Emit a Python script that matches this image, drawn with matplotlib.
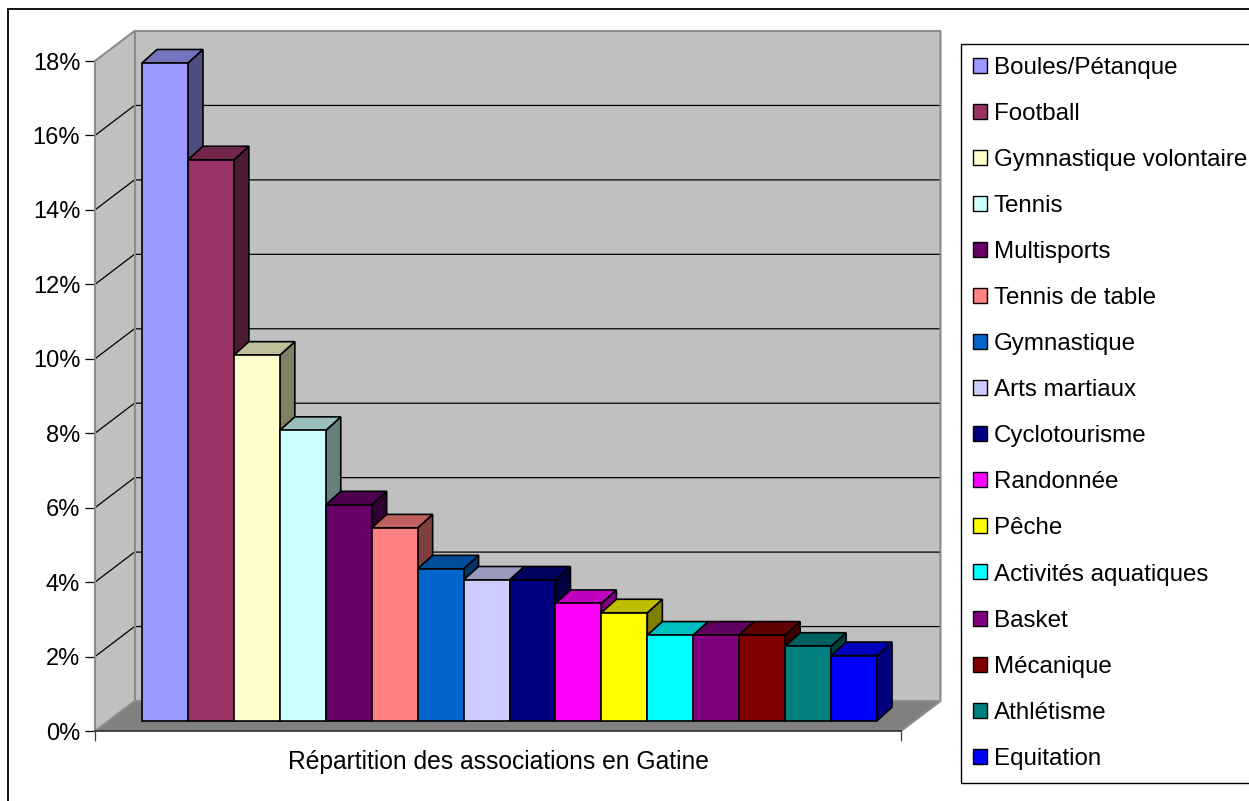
import matplotlib
matplotlib.use("Agg")
import matplotlib.pyplot as plt
from matplotlib.patches import Patch, Rectangle

plt.rcParams['font.family'] = ['Liberation Sans', 'DejaVu Sans']

sports = ["Boules/Pétanque", "Football", "Gymnastique volontaire", "Tennis",
          "Multisports", "Tennis de table", "Gymnastique", "Arts martiaux",
          "Cyclotourisme", "Randonnée", "Pêche", "Activités aquatiques",
          "Basket", "Mécanique", "Athlétisme", "Equitation"]
values = [17.67, 15.07, 9.82, 7.8, 5.8, 5.18, 4.08, 3.78,
          3.78, 3.15, 2.9, 2.3, 2.3, 2.3, 2.0, 1.75]
colors = ["#9999FF", "#993366", "#FFFFCC", "#CCFFFF", "#660066", "#FF8080",
          "#0066CC", "#CCCCFF", "#000080", "#FF00FF", "#FFFF00", "#00FFFF",
          "#800080", "#800000", "#008080", "#0000FF"]
yticks = list(range(0, 20, 2))
title = "Répartition des associations en Gatine"

W, H = 1249, 801
fig = plt.figure(figsize=(W / 100, H / 100), dpi=100)
ax = fig.add_axes([95 / W, 1 - 731 / H, 806 / W, 670 / H])

bar_w = 45.94  # px per category
ax.set_xlim(-47 / bar_w, 759 / bar_w)
ax.set_ylim(0, 18)
px_y = 670 / 18

# fake 3D offsets, in data units
wall_dx, wall_dy = 39.5 / bar_w, 30 / px_y
bar_dx, bar_dy = 15 / bar_w, 13.5 / px_y
base = 10.3 / px_y
x0, x1 = ax.get_xlim()


def darker(col, f):
    r, g, b = matplotlib.colors.to_rgb(col)
    return (r * f, g * f, b * f)


# walls and floor
ax.fill([x0, x0 + wall_dx, x0 + wall_dx, x0], [0, wall_dy, 18 + wall_dy, 18],
        color="#C0C0C0", clip_on=False, zorder=1, lw=0)
ax.fill([x0 + wall_dx, x1 + wall_dx, x1 + wall_dx, x0 + wall_dx],
        [wall_dy, wall_dy, 18 + wall_dy, 18 + wall_dy],
        color="#C0C0C0", clip_on=False, zorder=1, lw=0)
ax.fill([x0, x1, x1 + wall_dx, x0 + wall_dx], [0, 0, wall_dy, wall_dy],
        color="#808080", clip_on=False, zorder=1, lw=0)

# gridlines run along both walls
for t in yticks[1:-1]:
    ax.plot([x0, x0 + wall_dx, x1 + wall_dx], [t, t + wall_dy, t + wall_dy],
            color="black", lw=0.9, clip_on=False, zorder=2)

# wall edges
ax.plot([x0, x0 + wall_dx, x1 + wall_dx, x1 + wall_dx, x1],
        [18, 18 + wall_dy, 18 + wall_dy, wall_dy, 0],
        color="#8C8C8C", lw=1.5, clip_on=False, zorder=2)
ax.plot([x0 + wall_dx, x0 + wall_dx, x1 + wall_dx], [18 + wall_dy, wall_dy, wall_dy],
        color="#8C8C8C", lw=1.5, clip_on=False, zorder=2)
ax.plot([x0, x0 + wall_dx], [0, wall_dy], color="#8C8C8C", lw=1.2, clip_on=False, zorder=2)

# bars, left to right so each one covers the side of the previous
z = 3
for i, (v, c) in enumerate(zip(values, colors)):
    top = base + v
    ax.fill([i + 1, i + 1 + bar_dx, i + 1 + bar_dx, i + 1],
            [base, base + bar_dy, top + bar_dy, top],
            facecolor=darker(c, 0.5), edgecolor="black", lw=1.2, zorder=z, clip_on=False)
    ax.fill([i, i + bar_dx, i + 1 + bar_dx, i + 1],
            [top, top + bar_dy, top + bar_dy, top],
            facecolor=darker(c, 0.75), edgecolor="black", lw=1.2, zorder=z, clip_on=False)
    ax.bar(i + 0.5, v, width=1, bottom=base, color=c, edgecolor="black", lw=1.2,
           zorder=z, clip_on=False)
    z += 1

for s in ("top", "right"):
    ax.spines[s].set_visible(False)
ax.spines["left"].set_color("#8C8C8C")
ax.spines["left"].set_linewidth(1.5)
ax.spines["bottom"].set_color("#303030")
ax.spines["bottom"].set_linewidth(1.2)
ax.spines["left"].set_zorder(2)
ax.spines["bottom"].set_zorder(2)

ax.set_yticks(yticks)
ax.set_yticklabels([f"{t}%" for t in yticks])
ax.set_xticks([x0, x1])
ax.set_xticklabels([])
ax.tick_params(axis="y", length=7.2, width=0.9, pad=3.5, labelsize=17, colors="black")
ax.tick_params(axis="x", length=7.2, width=0.9, color="#404040")
ax.set_xlabel(title, fontsize=17.75, labelpad=3)

# outer chart border and legend box run off the right and bottom of the picture
fig.add_artist(Rectangle((8 / W, 1 - 810 / H), 1250 / W, 801 / H, transform=fig.transFigure,
                         fill=False, edgecolor="black", lw=1.3))
fig.add_artist(Rectangle((961 / W, 1 - 783 / H), 292 / W, 739 / H, transform=fig.transFigure,
                         fill=False, edgecolor="black", lw=1.0))

handles = [Patch(facecolor=c, edgecolor="black", lw=1.0) for c in colors]
fig.legend(handles, sports, loc="upper left", bbox_to_anchor=(973 / W, 1 - 57 / H),
           frameon=False, fontsize=17.4, borderpad=0, borderaxespad=0,
           handlelength=0.58, handleheight=0.58, handletextpad=0.28, labelspacing=0.995)

fig.savefig("out.png", dpi=100)
